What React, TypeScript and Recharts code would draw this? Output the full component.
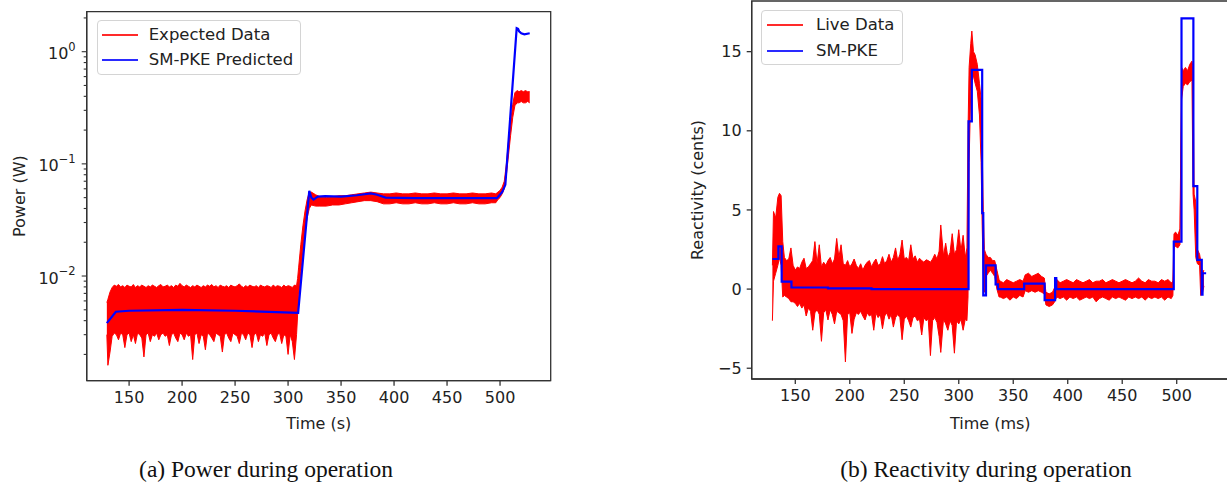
import React from 'react';
import { ComposedChart, Line, Area, XAxis, YAxis, ReferenceArea, Legend } from 'recharts';

// ---------- Data: (a) Power ----------
const timeTicks = [150, 200, 250, 300, 350, 400, 450, 500];
const powerTicks = [0.002, 0.003, 0.004, 0.005, 0.006, 0.007, 0.008, 0.009, 0.01, 0.02, 0.03, 0.04, 0.05, 0.06, 0.07, 0.08, 0.09, 0.1, 0.2, 0.3, 0.4, 0.5, 0.6, 0.7, 0.8, 0.9, 1, 2];

const powerRedTime = [129, 130, 132, 134, 136, 138, 140, 142, 144, 146, 148, 150, 152, 154, 156, 158, 160, 162, 164, 166, 168, 170, 172, 174, 176, 178, 180, 182, 184, 186, 188, 190, 192, 194, 196, 198, 200, 202, 204, 206, 208, 210, 212, 214, 216, 218, 220, 222, 224, 226, 228, 230, 232, 234, 236, 238, 240, 242, 244, 246, 248, 250, 252, 254, 256, 258, 260, 262, 264, 266, 268, 270, 272, 274, 276, 278, 280, 282, 284, 286, 288, 290, 292, 294, 296, 298, 300, 302, 304, 306, 308, 309, 310, 312, 314, 316, 318, 320, 322, 326, 330, 336, 342, 348, 354, 360, 366, 372, 378, 384, 390, 396, 402, 408, 414, 420, 426, 432, 438, 444, 450, 456, 462, 468, 474, 480, 486, 492, 496, 498, 500, 502, 504, 506, 508, 510, 512, 514, 516, 518, 520, 522, 524, 526, 528];
const powerRedLow = [0.003, 0.0016, 0.0021, 0.0029, 0.0031, 0.003, 0.0027, 0.0031, 0.003, 0.0023, 0.003, 0.0031, 0.0026, 0.003, 0.0025, 0.0031, 0.003, 0.0028, 0.0019, 0.003, 0.0031, 0.0026, 0.003, 0.0029, 0.0031, 0.0027, 0.003, 0.0031, 0.0029, 0.003, 0.0024, 0.003, 0.0031, 0.0028, 0.0026, 0.0031, 0.003, 0.0027, 0.0031, 0.0029, 0.003, 0.0018, 0.003, 0.0031, 0.0025, 0.003, 0.0029, 0.0022, 0.0031, 0.003, 0.0028, 0.0026, 0.0031, 0.003, 0.0029, 0.0021, 0.003, 0.0031, 0.0028, 0.0026, 0.0031, 0.003, 0.0029, 0.0025, 0.0031, 0.003, 0.0027, 0.0031, 0.003, 0.0023, 0.003, 0.0031, 0.0026, 0.003, 0.0029, 0.0031, 0.0024, 0.003, 0.0031, 0.0028, 0.0026, 0.003, 0.0031, 0.0025, 0.003, 0.0029, 0.002, 0.003, 0.0026, 0.0018, 0.003, 0.0045, 0.0065, 0.011, 0.017, 0.025, 0.033, 0.04, 0.043, 0.042, 0.042, 0.042, 0.043, 0.043, 0.044, 0.045, 0.046, 0.047, 0.047, 0.046, 0.044, 0.044, 0.045, 0.044, 0.044, 0.045, 0.044, 0.044, 0.045, 0.044, 0.044, 0.045, 0.044, 0.044, 0.045, 0.044, 0.044, 0.045, 0.045, 0.048, 0.05, 0.054, 0.06, 0.08, 0.12, 0.18, 0.26, 0.33, 0.35, 0.35, 0.36, 0.35, 0.35, 0.36, 0.35];
const powerRedHigh = [0.0058, 0.0062, 0.0072, 0.0079, 0.0083, 0.0081, 0.0084, 0.008, 0.0082, 0.0079, 0.0083, 0.0081, 0.008, 0.0084, 0.0079, 0.0082, 0.008, 0.0083, 0.0081, 0.0079, 0.0082, 0.008, 0.0083, 0.0081, 0.0079, 0.0082, 0.0084, 0.008, 0.0081, 0.0083, 0.008, 0.0082, 0.0079, 0.0083, 0.0081, 0.0086, 0.0082, 0.008, 0.0083, 0.0081, 0.0079, 0.0082, 0.008, 0.0083, 0.0081, 0.0079, 0.0082, 0.008, 0.0083, 0.0081, 0.0084, 0.008, 0.0082, 0.0079, 0.0083, 0.0081, 0.008, 0.0082, 0.0079, 0.0083, 0.0081, 0.008, 0.0082, 0.0085, 0.0081, 0.0079, 0.0082, 0.008, 0.0083, 0.0081, 0.008, 0.0082, 0.0079, 0.0083, 0.0081, 0.008, 0.0082, 0.0081, 0.0079, 0.0083, 0.008, 0.0082, 0.0081, 0.0079, 0.0083, 0.008, 0.0082, 0.0081, 0.0079, 0.0083, 0.0082, 0.0095, 0.012, 0.019, 0.028, 0.038, 0.048, 0.056, 0.056, 0.053, 0.051, 0.05, 0.051, 0.052, 0.052, 0.053, 0.054, 0.055, 0.056, 0.055, 0.054, 0.054, 0.055, 0.054, 0.054, 0.055, 0.054, 0.054, 0.055, 0.054, 0.054, 0.055, 0.054, 0.054, 0.055, 0.054, 0.054, 0.055, 0.054, 0.056, 0.058, 0.062, 0.07, 0.1, 0.16, 0.24, 0.34, 0.43, 0.45, 0.44, 0.45, 0.44, 0.45, 0.44, 0.44];

const powerBlueTime = [129, 137.5, 150, 200, 250, 309.5, 320, 322, 324, 328, 335, 350, 365, 378, 384, 392, 420, 497, 502, 505, 515.7, 517, 518, 520, 523, 528];
const powerBlueValue = [0.0038, 0.0048, 0.0049, 0.005, 0.0049, 0.0047, 0.0575, 0.05, 0.048, 0.051, 0.0515, 0.051, 0.0525, 0.0545, 0.053, 0.05, 0.0495, 0.0495, 0.056, 0.065, 1.62, 1.6, 1.52, 1.46, 1.43, 1.46];

// ---------- Data: (b) Reactivity ----------
const reactTicks = [-5, 0, 5, 10, 15];

const reactRedTime = [129, 130, 132, 134, 135.5, 137, 138.5, 140, 142, 144, 146, 148, 150, 152, 154, 156, 158, 160, 162, 164, 166, 168, 170, 172, 174, 176, 178, 180, 182, 184, 186, 188, 190, 192, 194, 196, 198, 200, 202, 204, 206, 208, 210, 212, 214, 216, 218, 220, 222, 224, 226, 228, 230, 232, 234, 236, 238, 240, 242, 244, 246, 248, 250, 252, 254, 256, 258, 260, 262, 264, 266, 268, 270, 272, 274, 276, 278, 280, 282, 283.5, 286, 288, 290, 292, 294, 296, 298, 300, 302, 304, 306, 307.5, 308.5, 309.5, 311, 312, 313.5, 315, 317, 319, 320.5, 321.5, 322.5, 323.5, 325, 327, 329, 331, 333, 335, 337, 338, 341, 344, 347, 350, 353, 356, 359, 361, 364, 367, 370, 373, 376, 378.5, 380, 383, 386, 388, 390, 393, 396, 399, 402, 405, 408, 411, 414, 417, 420, 423, 426, 429, 432, 435, 438, 441, 444, 447, 450, 453, 456, 459, 462, 465, 468, 471, 474, 477, 480, 483, 486, 489, 492, 495, 496.5, 497.5, 499, 501, 503, 504.5, 506, 508, 510, 512, 514, 515, 516, 517.5, 519, 521, 522, 523.5, 525];
const reactRedLow = [-2.0, 0.5, 1.0, 1.5, 2.0, 1.5, -0.5, -0.4, -0.5, -0.6, -0.8, -0.8, -0.9, -1.1, -0.9, -1.2, -1.0, -1.7, -1.2, -1.4, -2.6, -1.5, -1.3, -1.6, -3.3, -1.5, -1.3, -1.95, -1.3, -1.6, -2.2, -1.4, -1.5, -1.6, -2.0, -4.6, -1.6, -1.5, -2.8, -1.9, -1.5, -1.6, -1.4, -1.7, -1.95, -1.5, -1.7, -1.6, -2.6, -1.5, -1.8, -1.6, -2.5, -1.7, -1.5, -1.9, -1.6, -2.4, -1.8, -1.6, -1.8, -3.2, -1.9, -1.7, -2.0, -2.4, -1.8, -1.7, -2.0, -1.9, -2.9, -1.8, -2.0, -1.9, -4.2, -2.0, -1.8, -2.1, -3.0, -4.0, -1.9, -2.2, -2.6, -2.0, -2.3, -4.05, -2.0, -2.2, -1.9, -2.6, -1.9, -2.0, -0.5, 8.0, 12.5, 13.0, 13.5, 13.0, 12.5, 11.0, 8.0, 4.0, 1.0, -0.2, 0.8, 1.0, 1.2, 1.0, 0.8, 0.0, -0.5, -0.5, -0.6, -0.5, -0.7, -0.5, -0.6, -0.4, -0.5, -0.1, -0.2, -0.1, -0.2, -0.1, -0.2, -0.3, -1.0, -1.1, -1.0, -0.8, -0.5, -0.6, -0.5, -0.7, -0.5, -0.6, -0.5, -0.7, -0.6, -0.5, -0.6, -0.5, -0.8, -0.6, -0.5, -0.6, -0.7, -0.5, -0.6, -0.5, -0.6, -0.7, -0.5, -0.6, -0.5, -0.6, -0.5, -0.7, -0.5, -0.6, -0.5, -0.6, -0.5, -0.7, -0.5, -0.6, -0.4, 2.6, 2.7, 2.6, 2.8, 12.0, 12.8, 13.0, 12.9, 13.1, 13.2, 6.0, 5.0, 2.0, 1.6, 1.5, -0.4, -0.3, 0.2];
const reactRedHigh = [1.5, 4.9, 4.5, 5.8, 6.05, 5.9, 3.0, 2.0, 1.8, 1.9, 2.6, 1.5, 1.2, 1.4, 1.3, 1.7, 1.95, 1.3, 1.4, 1.6, 1.8, 3.0, 1.6, 2.8, 1.4, 1.7, 1.5, 1.8, 2.0, 1.6, 1.9, 3.2, 2.0, 2.8, 1.6, 1.5, 1.8, 1.4, 1.6, 1.9, 1.5, 1.3, 1.6, 1.2, 1.5, 1.7, 1.8, 1.4, 1.7, 1.9, 1.5, 1.6, 2.05, 1.6, 1.8, 2.2, 1.7, 2.0, 2.6, 1.8, 2.2, 3.1, 1.9, 2.0, 1.8, 2.8, 1.9, 2.1, 1.7, 1.95, 1.8, 1.7, 1.85, 1.8, 1.7, 1.9, 2.2, 1.9, 2.4, 4.05, 2.1, 2.9, 2.0, 2.3, 3.5, 2.2, 2.5, 3.75, 2.4, 3.4, 2.0, 2.6, 10.0, 14.0, 15.5, 16.3, 15.0, 14.8, 14.2, 13.0, 12.0, 9.0, 5.0, 2.5, 2.2, 2.0, 2.0, 1.8, 1.8, 1.2, 0.6, 0.5, 0.4, 0.6, 0.5, 0.4, 0.5, 0.6, 0.5, 0.9, 1.0, 0.8, 0.9, 1.0, 0.8, 0.7, -0.2, -0.3, -0.2, 0.1, 0.6, 0.4, 0.5, 0.6, 0.5, 0.4, 0.6, 0.5, 0.4, 0.5, 0.6, 0.4, 0.5, 0.5, 0.6, 0.4, 0.5, 0.6, 0.5, 0.4, 0.5, 0.6, 0.5, 0.4, 0.5, 0.7, 0.5, 0.4, 0.6, 0.5, 0.5, 0.4, 0.6, 0.5, 0.6, 0.4, 0.5, 3.5, 3.6, 3.4, 3.8, 14.0, 13.8, 14.0, 13.8, 14.2, 14.4, 14.0, 6.0, 5.5, 2.5, 2.2, 1.8, 1.0, 1.2];

const reactBlueTime = [129, 134.5, 137.5, 146.5, 180, 220, 309, 312, 321.5, 322.5, 325, 333.8, 336, 360, 378.8, 388.4, 389.5, 497.3, 504.4, 515.3, 518.9, 523, 523.7, 527];
const reactBlueValue = [1.9, 2.7, 0.47, 0.1, 0.05, 0.0, 10.6, 13.85, 4.8, -0.4, 1.5, 0.3, 0.0, 0.35, -0.7, 0.7, 0.0, 3.0, 17.1, 6.5, 1.85, -0.35, 1.0, 1.0];

// ---------- Derived tables ----------
const powerRed = powerRedTime.map((t, i) => ({ t, band: [powerRedLow[i], powerRedHigh[i]] }));
const powerBlue = powerBlueTime.map((t, i) => ({ t, v: powerBlueValue[i] }));
const reactRed = reactRedTime.map((t, i) => ({ t, band: [reactRedLow[i], reactRedHigh[i]] }));
const reactBlue = reactBlueTime.map((t, i) => ({ t, v: reactBlueValue[i] }));

const FONT = "'DejaVu Sans', sans-serif";
const TXT = '#222';
const SPINE = '#333';
const FS = 16;

const tickStyle = { fill: TXT, fontSize: FS, fontFamily: FONT };
const lineStyle = { stroke: SPINE, strokeWidth: 1.3 };

const LogTick = (props: any) => {
  const { x, y, payload } = props;
  const v = payload.value;
  const e = Math.round(Math.log10(v));
  const major = Math.abs(v / Math.pow(10, e) - 1) < 1e-6;
  const len = major ? 5 : 3;
  const expText = e < 0 ? '\u2212' + String(-e) : String(e);
  return (
    <g>
      <line x1={x - len} x2={x} y1={y} y2={y} stroke={SPINE} strokeWidth={1.1} />
      {major && (
        <text x={x - 11} y={y + 2} textAnchor="end" dominantBaseline="central" fill={TXT} fontSize={FS} fontFamily={FONT}>
          10<tspan dy={-7} fontSize={11.5}>{expText}</tspan>
        </text>
      )}
    </g>
  );
};

const fmtMinus = (v: number) => (v < 0 ? '\u2212' + String(-v) : String(v));

const yLabel = (text: string, cx: number) => (p: any) => {
  const vb = p.viewBox || { x: 0, y: 0, width: 0, height: 0 };
  const x = vb.x + cx;
  const y = vb.y + vb.height / 2;
  return (
    <text x={x} y={y} transform={`rotate(-90, ${x}, ${y})`} textAnchor="middle" dominantBaseline="central" fill={TXT} fontSize={FS} fontFamily={FONT}>
      {text}
    </text>
  );
};

const xLabel = (text: string, dy: number) => (p: any) => {
  const vb = p.viewBox || { x: 0, y: 0, width: 0, height: 0 };
  return (
    <text x={vb.x + vb.width / 2} y={vb.y + dy} textAnchor="middle" dominantBaseline="central" fill={TXT} fontSize={FS} fontFamily={FONT}>
      {text}
    </text>
  );
};

const LegendBox = ({ items, width, textLeft, lineLeft, rows }: any) => (
  <div
    style={{
      position: 'relative',
      width,
      height: 55,
      boxSizing: 'border-box',
      border: '1px solid #d4d4d4',
      borderRadius: 4,
      background: 'rgba(255,255,255,0.85)',
      fontFamily: FONT,
      fontSize: 16.5,
      color: TXT,
    }}
  >
    {items.map((it: any, i: number) => (
      <div key={it.label}>
        <div style={{ position: 'absolute', left: lineLeft, top: rows[i] - 1.3, width: 36, height: 2.6, background: it.color }} />
        <div style={{ position: 'absolute', left: textLeft, top: rows[i] - 10, lineHeight: '20px', whiteSpace: 'nowrap' }}>{it.label}</div>
      </div>
    ))}
  </div>
);

const PowerChart = () => (
  <ComposedChart width={560} height={486} margin={{ top: 11.7, right: 9.3, bottom: 56, left: 0 }}>
    <XAxis
      dataKey="t"
      type="number"
      domain={[110, 547.8]}
      ticks={timeTicks}
      interval={0}
      allowDataOverflow
      height={49.3}
      tickSize={5}
      tickMargin={6}
      tick={tickStyle}
      axisLine={lineStyle}
      tickLine={lineStyle}
      label={{ content: xLabel('Time (s)', 42.5) }}
    />
    <YAxis
      type="number"
      scale="log"
      domain={[0.001166, 2.273]}
      allowDataOverflow
      ticks={powerTicks}
      interval={0}
      width={86.7}
      tickSize={0}
      tickMargin={0}
      tickLine={false}
      tick={<LogTick />}
      axisLine={lineStyle}
      label={{ content: yLabel('Power (W)', 20) }}
    />
    <ReferenceArea x1={110} x2={547.8} y1={0.001166} y2={2.273} fill="none" stroke={SPINE} strokeWidth={1.3} ifOverflow="visible" />
    <Area data={powerRed} dataKey="band" type="linear" stroke="#ff0000" strokeWidth={1} fill="#ff0000" fillOpacity={1} isAnimationActive={false} dot={false} activeDot={false} />
    <Line data={powerBlue} dataKey="v" type="linear" stroke="#0000ff" strokeWidth={2.2} dot={false} activeDot={false} isAnimationActive={false} />
    <Legend
      layout="horizontal"
      verticalAlign="middle"
      align="center"
      wrapperStyle={{ position: 'absolute', left: 96.7, top: 20, width: 'auto', height: 'auto' }}
      content={() => (
        <LegendBox
          width={204}
          lineLeft={4}
          textLeft={51}
          rows={[14, 39]}
          items={[
            { label: 'Expected Data', color: '#ff2a2a' },
            { label: 'SM-PKE Predicted', color: '#2a2aff' },
          ]}
        />
      )}
    />
  </ComposedChart>
);

const ReactivityChart = () => (
  <ComposedChart width={620} height={486} margin={{ top: 1, right: 11.2, bottom: 56, left: 0 }}>
    <XAxis
      dataKey="t"
      type="number"
      domain={[110, 547.8]}
      ticks={timeTicks}
      interval={0}
      allowDataOverflow
      height={51}
      tickSize={5}
      tickMargin={6}
      tick={tickStyle}
      axisLine={lineStyle}
      tickLine={lineStyle}
      label={{ content: xLabel('Time (ms)', 44.5) }}
    />
    <YAxis
      type="number"
      domain={[-5.68, 18.2]}
      allowDataOverflow
      ticks={reactTicks}
      interval={0}
      width={131.7}
      tickSize={5}
      tickMargin={5}
      tick={tickStyle}
      tickFormatter={fmtMinus}
      axisLine={lineStyle}
      tickLine={lineStyle}
      label={{ content: yLabel('Reactivity (cents)', 77) }}
    />
    <ReferenceArea x1={110} x2={547.8} y1={-5.68} y2={18.2} fill="none" stroke={SPINE} strokeWidth={1.3} ifOverflow="visible" />
    <Area data={reactRed} dataKey="band" type="linear" stroke="#ff0000" strokeWidth={1} fill="#ff0000" fillOpacity={1} isAnimationActive={false} dot={false} activeDot={false} />
    <Line data={reactBlue} dataKey="v" type="stepAfter" stroke="#0000ff" strokeWidth={2.2} dot={false} activeDot={false} isAnimationActive={false} />
    <Legend
      layout="horizontal"
      verticalAlign="middle"
      align="center"
      wrapperStyle={{ position: 'absolute', left: 141, top: 10, width: 'auto', height: 'auto' }}
      content={() => (
        <LegendBox
          width={142}
          lineLeft={5}
          textLeft={54}
          rows={[14, 40]}
          items={[
            { label: 'Live Data', color: '#ff2a2a' },
            { label: 'SM-PKE', color: '#2a2aff' },
          ]}
        />
      )}
    />
  </ComposedChart>
);

const captionStyle: React.CSSProperties = {
  position: 'absolute',
  top: 455,
  width: 600,
  textAlign: 'center',
  fontFamily: "'Liberation Serif', 'DejaVu Serif', serif",
  fontSize: 23.5,
  color: '#111',
  lineHeight: '28px',
  whiteSpace: 'nowrap',
};

export default function App() {
  return (
    <div style={{ position: 'absolute', left: 0, top: 0, width: 1227, height: 486, overflow: 'hidden', background: '#fff' }}>
      <div style={{ position: 'absolute', left: 0, top: 0 }}>
        <PowerChart />
      </div>
      <div style={{ position: 'absolute', left: 620, top: 0 }}>
        <ReactivityChart />
      </div>
      <div style={{ ...captionStyle, left: 266 - 300 }}>(a) Power during operation</div>
      <div style={{ ...captionStyle, left: 986 - 300 }}>(b) Reactivity during operation</div>
    </div>
  );
}
